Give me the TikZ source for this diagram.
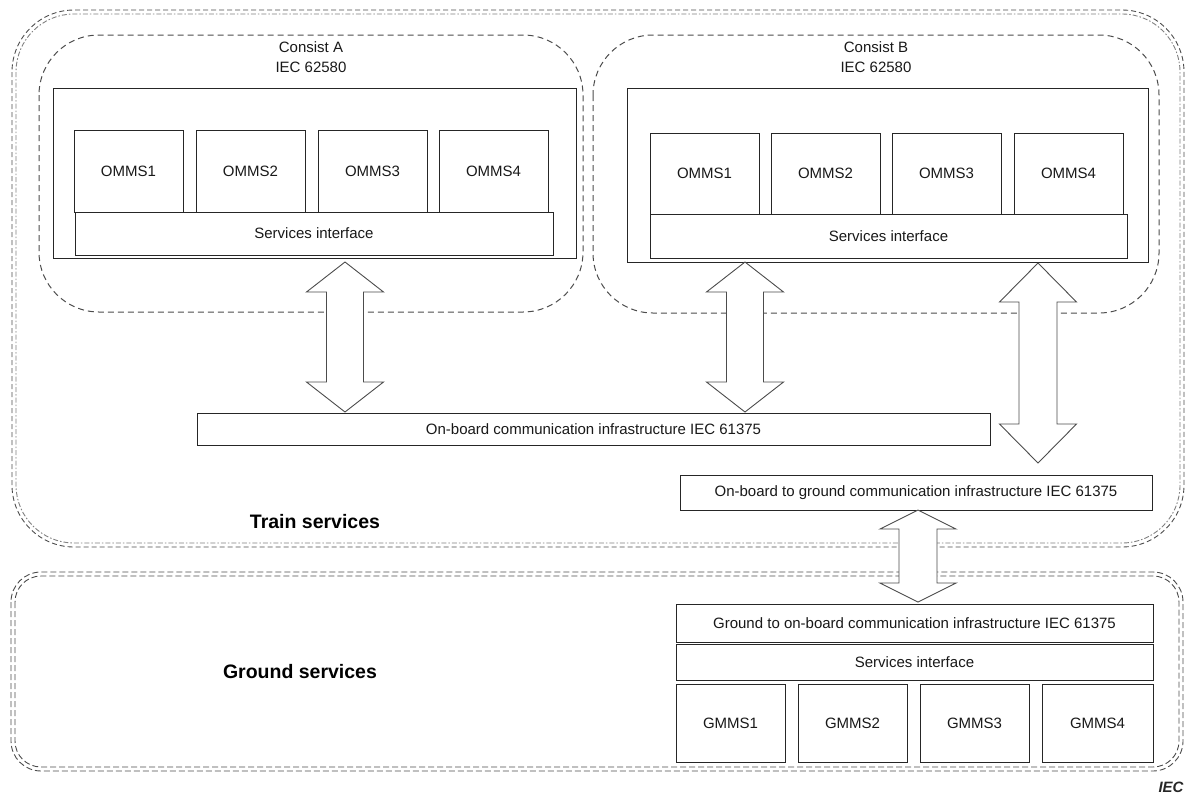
\documentclass[tikz,border=0pt]{standalone}
\usepackage{fontspec}
\setmainfont{Liberation Sans}
\begin{document}
\begin{tikzpicture}[x=1pt,y=-1pt,
  every node/.style={font=\fontsize{15}{20}\selectfont, text=black!90},
  blk/.style={draw=black!85, line width=0.9pt, rectangle, inner sep=0pt, fill=white},
  consist/.style={draw=black!70, line width=1pt, dash pattern=on 6pt off 4pt, rounded corners=60pt},
  trainout/.style={draw=black!70, line width=0.9pt, dash pattern=on 5pt off 3pt, rounded corners=62pt},
  trainin/.style={draw=black!50, line width=0.9pt, dash pattern=on 5pt off 2pt on 1.5pt off 2pt, rounded corners=58pt},
  groundline/.style={draw=black!70, line width=0.9pt, dash pattern=on 6pt off 3pt, rounded corners=#1},
  blockarrow/.style={draw=black!70, line width=0.9pt, fill=white, line join=miter},
  title/.style={font=\fontsize{19.5}{22}\selectfont\bfseries, text=black}
]
\useasboundingbox (0,0) rectangle (1189,796);

% double bordered regions: train and ground
\draw[trainout] (12,10) rectangle (1184,547);
\draw[trainin] (16,14) rectangle (1180,543);
\draw[groundline=30pt] (11,572) rectangle (1183,771);
\draw[groundline=26pt] (15,576) rectangle (1179,767);

% consists
\draw[consist] (39,35) rectangle (583,312);
\draw[consist] (593,35) rectangle (1159,313);
\node[align=center] (lblA) at (311,57) {Consist A\\IEC 62580};
\node[align=center] (lblB) at (876,57) {Consist B\\IEC 62580};

% consist A equipment
\node[blk, minimum width=523pt, minimum height=170pt] (frameA) at (314.5,173) {};
\node[blk, minimum width=109pt, minimum height=82pt] (a1) at (128.5,171) {OMMS1};
\node[blk, minimum width=109pt, minimum height=82pt] (a2) at (250.5,171) {OMMS2};
\node[blk, minimum width=109pt, minimum height=82pt] (a3) at (372.5,171) {OMMS3};
\node[blk, minimum width=109pt, minimum height=82pt] (a4) at (493.5,171) {OMMS4};
\node[blk, minimum width=478pt, minimum height=43pt] (sA) at (314,233.5) {Services interface};

% consist B equipment
\node[blk, minimum width=521pt, minimum height=174pt] (frameB) at (887.5,175) {};
\node[blk, minimum width=109pt, minimum height=81pt] (b1) at (704.5,173.5) {OMMS1};
\node[blk, minimum width=109pt, minimum height=81pt] (b2) at (825.5,173.5) {OMMS2};
\node[blk, minimum width=109pt, minimum height=81pt] (b3) at (946.5,173.5) {OMMS3};
\node[blk, minimum width=109pt, minimum height=81pt] (b4) at (1068.5,173.5) {OMMS4};
\node[blk, minimum width=477pt, minimum height=44pt] (sB) at (888.5,236) {Services interface};

% communication infrastructure
\node[blk, minimum width=793pt, minimum height=32pt] (obc) at (593.5,429) {On-board communication infrastructure IEC 61375};
\node[blk, minimum width=472pt, minimum height=35pt] (obg) at (916,492.5) {On-board to ground communication infrastructure IEC 61375};

% ground equipment
\node[blk, minimum width=477pt, minimum height=38pt] (gob) at (914.5,623) {Ground to on-board communication infrastructure IEC 61375};
\node[blk, minimum width=477pt, minimum height=36pt] (sG) at (914.5,662) {Services interface};
\node[blk, minimum width=109pt, minimum height=78pt] (g1) at (730.5,723) {GMMS1};
\node[blk, minimum width=109pt, minimum height=78pt] (g2) at (852.5,723) {GMMS2};
\node[blk, minimum width=109pt, minimum height=78pt] (g3) at (974.5,723) {GMMS3};
\node[blk, minimum width=111pt, minimum height=78pt] (g4) at (1097.5,723) {GMMS4};

% double block arrows: centre x, top tip, bottom tip, head length, shaft half width, head half width
\newcommand{\dblblock}[6]{%
  \draw[blockarrow] (#1,#2) -- (#1+#6,#2+#4) -- (#1+#5,#2+#4) -- (#1+#5,#3-#4)
    -- (#1+#6,#3-#4) -- (#1,#3) -- (#1-#6,#3-#4) -- (#1-#5,#3-#4)
    -- (#1-#5,#2+#4) -- (#1-#6,#2+#4) -- cycle;}
\dblblock{345}{262}{412}{30}{18.5}{38.5}
\dblblock{745}{262}{412}{30}{18.5}{38.5}
\dblblock{1038}{263}{463}{39}{19}{38.5}
\dblblock{918}{510}{602}{19}{19}{38}

% region titles
\node[title] (trainT) at (315,522) {Train services};
\node[title] (groundT) at (300,672) {Ground services};
\node[font=\fontsize{15}{16}\selectfont\itshape\bfseries, text=black!85] (iec) at (1171,787) {IEC};
\end{tikzpicture}
\end{document}
